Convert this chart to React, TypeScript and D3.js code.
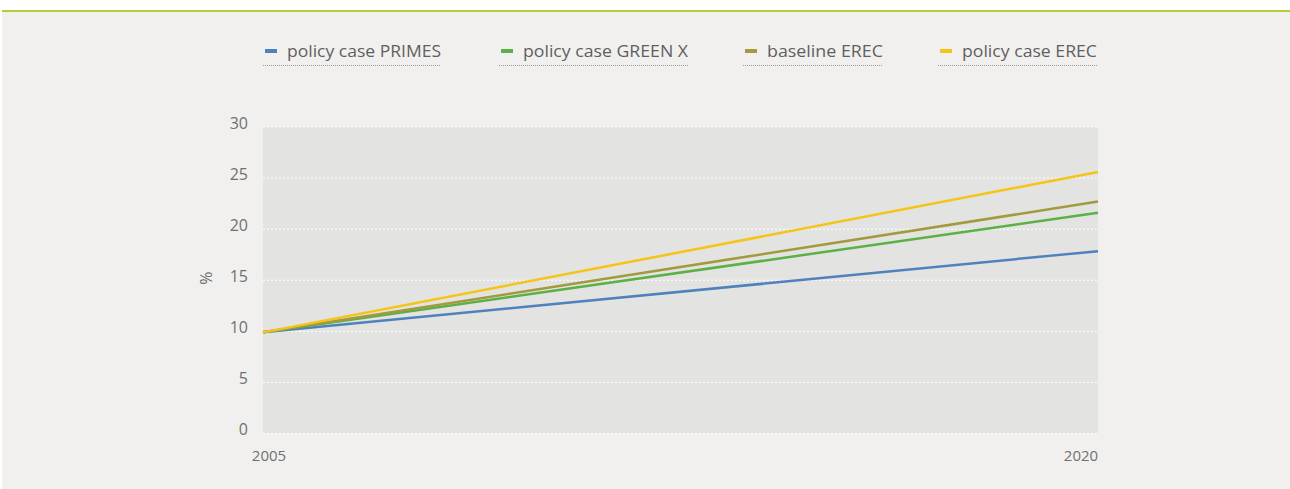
import React from "react";
import * as d3 from "d3";

const years = [2005, 2020];
const seriesNames = ["policy case PRIMES", "policy case GREEN X", "baseline EREC", "policy case EREC"];
const primes = [9.9, 17.85];
const greenX = [9.9, 21.6];
const baselineErec = [9.9, 22.7];
const policyErec = [9.9, 25.6];
const yTicks = [0, 5, 10, 15, 20, 25, 30];
const colors = ["#4f81bd", "#5bb146", "#a39a3e", "#f6c417"];
const legendX = [263, 499, 743, 938];
const legendW = [178, 189, 140, 159];

export default function App() {
  const W = 1290, H = 489;
  const left = 263, right = 1098, top = 127, bottom = 433.5;
  const x = d3.scaleLinear().domain([2005, 2020]).range([left, right]);
  const y = d3.scaleLinear().domain([0, 30]).range([bottom, top]);
  const data = [primes, greenX, baselineErec, policyErec];
  const line = d3.line<number>().x((_, i) => x(years[i])).y((d) => y(d));
  const font = "'Open Sans', 'Noto Sans', sans-serif";
  return (
    <svg width={W} height={H} style={{ position: "absolute", left: 0, top: 0 }}>
      <rect x={0} y={0} width={W} height={H} fill="#ffffff" />
      <rect x={2} y={11} width={W - 2} height={H - 11} fill="#f1f0ee" />
      <rect x={2} y={10} width={W - 2} height={2} fill="#b6cc35" />
      <rect x={left} y={top} width={right - left} height={bottom - top} fill="#e3e3e1" />
      {yTicks.map((t) => (
        <g key={t}>
          <line x1={left} x2={right} y1={y(t)} y2={y(t)} stroke="#ffffff" strokeWidth={1} strokeDasharray="2,2" />
          <text x={248} y={y(t) - 4} dy="0.35em" textAnchor="end" fontFamily={font} fontSize={16} fill="#707070">{t}</text>
        </g>
      ))}
      <text transform={`translate(212,${(top + bottom) / 2 - 2}) rotate(-90)`} textAnchor="middle" fontFamily={font} fontSize={16} fill="#707070">%</text>
      {years.map((yr, i) => (
        <text key={yr} x={x(yr) + (i === 0 ? 6 : -17)} y={461} textAnchor="middle" fontFamily={font} fontSize={15} fill="#707070">{yr}</text>
      ))}
      {data.map((d, i) => (
        <path key={i} d={line(d) || ""} fill="none" stroke={colors[i]} strokeWidth={2.5} />
      ))}
      {seriesNames.map((n, i) => (
        <g key={n}>
          <rect x={legendX[i] + 2} y={49} width={12} height={4} fill={colors[i]} />
          <text x={legendX[i] + 24} y={57} fontFamily={font} fontSize={16} fill="#5f5f5f" textLength={legendW[i] - 24} lengthAdjust="spacingAndGlyphs">{n}</text>
          <line x1={legendX[i]} x2={legendX[i] + legendW[i]} y1={65.5} y2={65.5} stroke="#9a9a9a" strokeWidth={1} strokeDasharray="1,1" />
        </g>
      ))}
    </svg>
  );
}
